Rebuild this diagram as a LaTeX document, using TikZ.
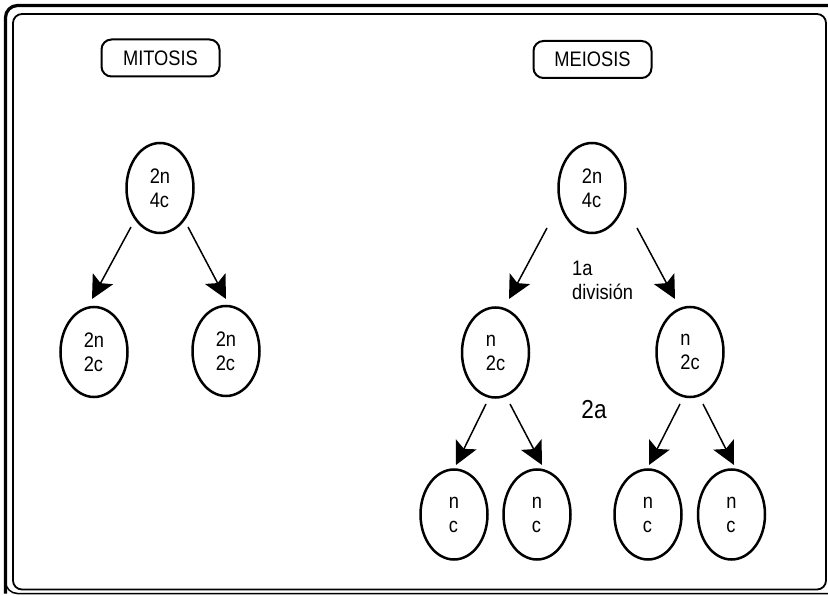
\documentclass[tikz,border=0pt]{standalone}
\usepackage{fontspec}
\setmainfont{Liberation Sans}[FakeStretch=0.87]
\usetikzlibrary{arrows.meta,calc,shapes.geometric}
\begin{document}
\begin{tikzpicture}[x=1pt,y=-1pt,
  cell/.style={ellipse, draw, line width=2.5pt, minimum width=67pt, minimum height=90pt,
    inner sep=0pt, align=left, font=\fontsize{21}{24}\selectfont},
  titlebox/.style={draw, rounded corners=10pt, line width=2pt, minimum width=118pt,
    minimum height=37pt, inner sep=0pt, font=\fontsize{21}{24}\selectfont},
  arr/.style={line width=1.5pt, -{Stealth[length=23pt,width=23pt,inset=5pt]}},
  lbl/.style={inner sep=0pt, align=left, font=\fontsize{21}{24}\selectfont},
]
\useasboundingbox (0,0) rectangle (828,596);
% frame
\draw[line width=1.5pt, rounded corners=12pt] (5.5,6) rectangle (845,593.5);
\draw[line width=3.2pt, rounded corners=12pt] (5.5,593.5) -- (5.5,5.5) -- (845,5.5);
\draw[line width=1.8pt, rounded corners=9pt] (13,14) rectangle (826,589.5);

% titles
\node[titlebox] (mit) at (160.5,58) {MITOSIS};
\node[titlebox] (mei) at (592.5,59.5) {MEIOSIS};

% mitosis
\node[cell] (t1) at (160,188) {2n\\4c};
\node[cell] (b1) at (94,352) {2n\\2c};
\node[cell] (b2) at (226,351) {2n\\2c};
\draw[arr] ($(t1)+(-29,39)$) -- ($(b1)+(-2,-53)$);
\draw[arr] ($(t1)+(28,39)$) -- ($(b2)+(0,-52)$);

% meiosis
\node[cell] (m0) at (592,188) {2n\\4c};
\node[cell] (ml) at (495.5,352.5) {n\\2c};
\node[cell] (mr) at (690,352) {n\\2c};
\node[cell] (c1) at (454,514.5) {n\\c};
\node[cell] (c2) at (537,514.5) {n\\c};
\node[cell] (c3) at (648,514.5) {n\\c};
\node[cell] (c4) at (731.5,514.5) {n\\c};

\draw[arr] ($(m0)+(-45,40)$) -- ($(ml)+(13.5,-53.5)$);
\draw[arr] ($(m0)+(45,40)$) -- ($(mr)+(-15,-53)$);
\draw[arr] ($(ml)+(-9.5,51.5)$) -- ($(c1)+(2,-49.5)$);
\draw[arr] ($(ml)+(14.5,51.5)$) -- ($(c2)+(5,-49.5)$);
\draw[arr] ($(mr)+(-10,52)$) -- ($(c3)+(1,-49.5)$);
\draw[arr] ($(mr)+(13,52)$) -- ($(c4)+(2.5,-49.5)$);

\node[lbl, anchor=west] (d1) at (572,280) {1a\\división};
\node[inner sep=0pt, font=\fontsize{26}{30}\selectfont] (d2) at (594,410) {2a};
\end{tikzpicture}
\end{document}
